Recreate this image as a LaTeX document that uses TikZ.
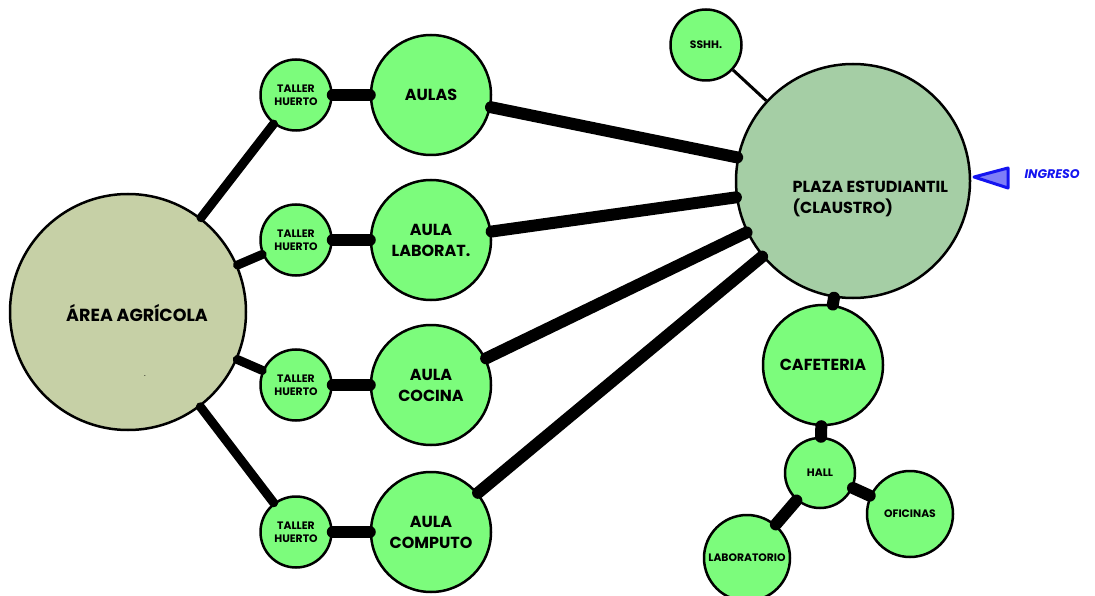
\documentclass[tikz,border=0pt]{standalone}
\usepackage{fontspec}
\setmainfont{Poppins}
\usetikzlibrary{positioning}

\definecolor{verdeaula}{RGB}{124,252,124}
\definecolor{verdeplaza}{RGB}{165,206,165}
\definecolor{agricola}{RGB}{198,208,166}
\definecolor{azulingreso}{RGB}{20,20,240}

\tikzset{
    zona/.style={circle, draw=black, line width=2.5pt, inner sep=0pt, align=center, fill=verdeaula},
    enlace/.style={line width=12pt, line cap=round},
    enlacemedio/.style={line width=9pt, line cap=round},
    txtgrande/.style={font=\fontsize{16}{21}\selectfont\bfseries},
    txtchico/.style={font=\fontsize{10.8}{13.5}\selectfont\bfseries},
}

\begin{document}
\begin{tikzpicture}[x=1pt, y=-1pt]
    \useasboundingbox (0,0) rectangle (1095,596);

    % zonas principales
    \node[zona, fill=agricola, minimum size=236pt] (agricola) at (128,312) {};
    \node[font=\fontsize{17.5}{21}\selectfont\bfseries] (agricolatxt) at (137,313) {ÁREA AGRÍCOLA};
    \node[font=\fontsize{8}{8}\selectfont] (punto) at (145,376) {.};
    \node[zona, fill=verdeplaza, minimum size=234pt] (plaza) at (853,181) {};
    \node[txtgrande, align=left, anchor=west] (plazatxt) at (789,199) {PLAZA ESTUDIANTIL\\(CLAUSTRO)};

    % talleres y aulas
    \foreach \i/\y/\nombre in {1/95/{AULAS}, 2/240/{AULA\\LABORAT.}, 3/385/{AULA\\COCINA}, 4/532/{AULA\\COMPUTO}} {
        \node[zona, minimum size=71pt, txtchico] (taller\i) at (296,\y) {TALLER\\HUERTO};
        \node[zona, minimum size=120pt, txtgrande] (aula\i) at (431,\y) {\nombre};
        \draw[enlace] (taller\i) -- (aula\i);
        \draw[enlacemedio] (agricola) -- (taller\i);
        \draw[enlace] (aula\i) -- (plaza);
    }

    % servicios
    \node[zona, minimum size=71pt, txtchico] (sshh) at (706,45) {SSHH.};
    \draw[line width=3pt] (sshh) -- (plaza);
    \node[zona, minimum size=120pt, txtgrande] (cafeteria) at (823,365) {CAFETERIA};
    \node[zona, minimum size=70pt, txtchico] (hall) at (820,473) {HALL};
    \node[zona, minimum size=86pt, txtchico] (oficinas) at (910,514) {OFICINAS};
    \node[zona, minimum size=86pt, txtchico] (laboratorio) at (747,558) {LABORATORIO};
    \draw[enlace] (plaza) -- (cafeteria);
    \draw[enlace] (cafeteria) -- (hall);
    \draw[enlace] (hall) -- (oficinas);
    \draw[enlace] (hall) -- (laboratorio);

    % ingreso
    \coordinate (punta) at (974,177);
    \draw[draw=azulingreso, fill=azulingreso!55, line width=3pt, line join=round] (punta) -- (1008,168) -- (1008,188) -- cycle;
    \node[text=azulingreso, font=\fontsize{12.5}{12.5}\selectfont\bfseries\itshape, anchor=west] (ingreso) at (1021,174) {INGRESO};
\end{tikzpicture}
\end{document}
